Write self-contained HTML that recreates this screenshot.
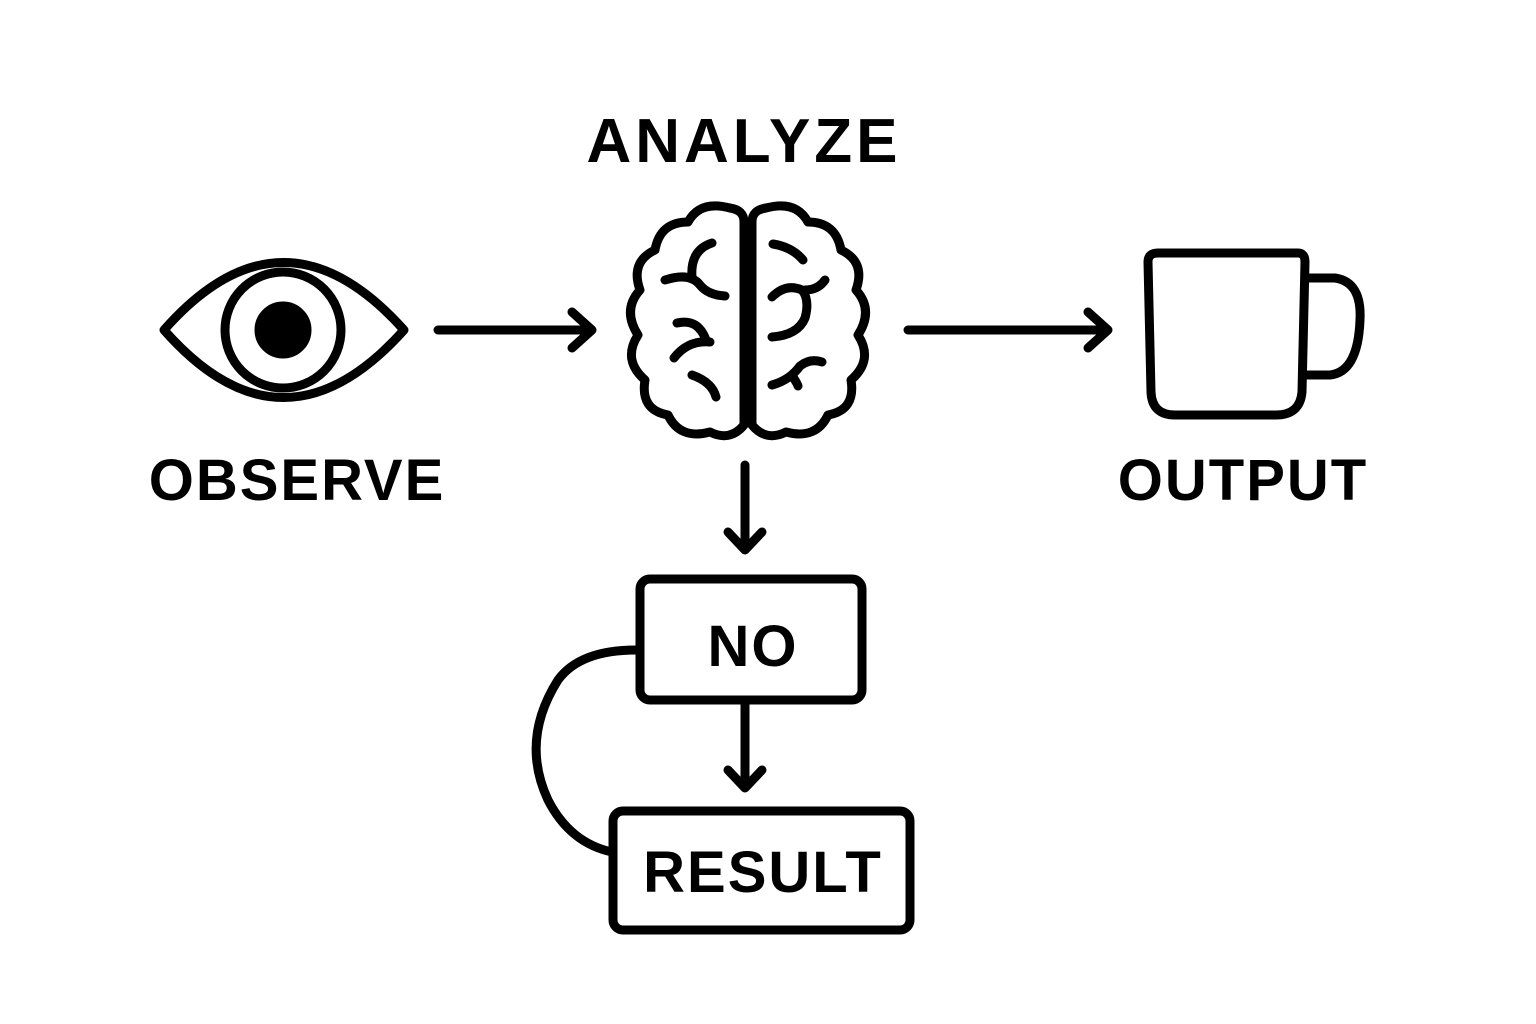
<!DOCTYPE html>
<html><head><style>body{margin:0;background:#fff}svg{display:block}</style></head><body>
<svg width="1536" height="1024" viewBox="0 0 1536 1024" xmlns="http://www.w3.org/2000/svg">
<g fill="none" stroke="#000" stroke-width="9" stroke-linecap="round" stroke-linejoin="round">
<path d="M164 330 Q283 195 404 330 Q283 465 164 330 Z"/>
<circle cx="283" cy="330" r="58"/>
<circle cx="283" cy="330" r="24" fill="#000"/>
<path d="M438 330 H592 M572 312 L592 330 L572 348"/>
<path d="M908 330 H1108 M1088 312 L1108 330 L1088 348"/>
<path d="M745 465 V548 M728 532 L745 550 L762 532"/>
<path d="M745 705 V786 M728 770 L745 788 L762 770"/>
<path d="M744 222 Q744 210 730 208 Q700 200 688 222 Q660 222 655 250 Q630 262 640 290 Q622 310 638 335 Q622 360 645 380 Q640 410 668 415 Q680 440 710 432 Q730 442 744 425 Z"/>
<path d="M752 222 Q752 210 766 208 Q796 200 808 222 Q836 222 841 250 Q866 262 856 290 Q874 310 858 335 Q874 360 851 380 Q856 410 828 415 Q816 440 786 432 Q766 442 752 425 Z"/>
<path d="M712 243 Q690 250 692 277 M665 280 Q690 272 700 285 Q708 295 725 296"/>
<path d="M677 323 Q698 318 706 340 M710 342 Q688 340 674 358"/>
<path d="M692 375 Q712 382 716 397"/>
<path d="M773 244 Q792 247 803 260 M772 297 Q786 283 802 290 Q810 300 805 318 Q798 335 772 337 M805 290 Q818 290 825 280"/>
<path d="M772 385 Q790 380 800 366 Q810 358 822 362 M793 377 Q797 383 798 386"/>
<path d="M1148 262 Q1148 253 1158 253 H1298 Q1305 253 1305 262 L1302 392 Q1300 415 1276 415 H1175 Q1152 415 1151 392 Z"/>
<path d="M1307 278 H1335 Q1362 282 1360 320 Q1358 372 1330 375 H1303"/>
<rect x="640" y="579" width="222" height="121" rx="10"/>
<rect x="613" y="811" width="297" height="119" rx="10"/>
<path d="M636 650 Q580 650 558 680 Q520 740 548 800 Q570 843 612 852"/>
</g>
<g font-family="Liberation Sans, sans-serif" font-weight="bold" text-anchor="middle" fill="#000">
<text x="744" y="162" font-size="62" letter-spacing="4">ANALYZE</text>
<text x="297" y="500" font-size="58" letter-spacing="2">OBSERVE</text>
<text x="1243" y="500" font-size="58" letter-spacing="2">OUTPUT</text>
<text x="753" y="666" font-size="58" letter-spacing="2">NO</text>
<text x="763" y="892" font-size="58" letter-spacing="2">RESULT</text>
</g>
</svg>
</body></html>
